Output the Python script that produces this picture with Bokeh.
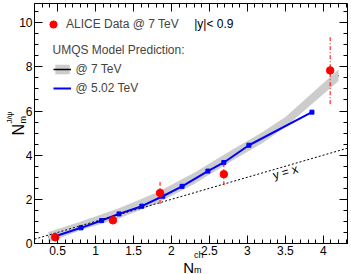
import math
import numpy as np
from bokeh.plotting import figure
from bokeh.models import (Range1d, LinearAxis, FixedTicker, Label, Legend, LegendItem,
                          ColumnDataSource, CustomJSTickFormatter)
from bokeh.embed import file_html
from bokeh.resources import INLINE

# ---------------- data ----------------
alice_x = [0.47, 1.23, 1.85, 2.69, 4.09]
alice_y = [0.28, 1.05, 2.29, 3.14, 7.84]
alice_err = [0.08, 0.08, 0.50, 0.50, 1.53]

umqs7_x = [0.38, 0.80, 1.30, 1.80, 2.30, 2.80, 3.20, 3.50, 4.20]
umqs7_lo = [0.05, 0.60, 1.12, 1.80, 2.70, 3.75, 4.55, 5.28, 7.36]
umqs7_hi = [0.52, 0.98, 1.58, 2.30, 3.20, 4.25, 5.05, 5.73, 7.88]
umqs7_mid = [0.28, 0.79, 1.35, 2.05, 2.95, 4.00, 4.80, 5.50, 7.62]

umqs502_x = [0.47, 0.81, 1.08, 1.31, 1.61, 1.885, 2.14, 2.48, 2.69, 3.02, 3.85]
umqs502_y = [0.33, 0.71, 1.04, 1.34, 1.69, 2.14, 2.59, 3.28, 3.67, 4.45, 5.95]

x_ticks = [0.5, 1, 1.5, 2, 2.5, 3, 3.5, 4]
y_ticks = [0, 2, 4, 6, 8, 10]

# axis limits of the drawn box
BX0, BX1 = 0.197, 4.318
BY0, BY1 = 0.0, 10.87

# ---------------- layout ----------------
W, H = 351, 274
L, R, T, B = 34, 347, 3, 243          # box edges in canvas pixels
ppx = (R - L) / (BX1 - BX0)
ppy = (B - T) / (BY1 - BY0)
XS, XE = BX0 - L / ppx, BX1 + (W - R) / ppx
YS, YE = BY0 - (H - B) / ppy, BY1 + T / ppy

FONT = "Liberation Sans"

p = figure(width=W, height=H, x_range=Range1d(XS, XE), y_range=Range1d(YS, YE),
           output_backend="svg", toolbar_location=None,
           x_axis_type=None, y_axis_type=None,
           min_border_left=0, min_border_right=0, min_border_top=0, min_border_bottom=0)
p.outline_line_color = None
p.background_fill_color = "white"
p.border_fill_color = "white"

fmt = CustomJSTickFormatter(code="return String(Math.round(tick*100)/100)")
blank = CustomJSTickFormatter(code="return ''")
x_minor = [round(v, 2) for v in np.arange(0.2, 4.33, 0.1)]
y_minor = [round(v, 2) for v in np.arange(0.0, 10.95, 0.5)]


def make_axis(ticks, minor, labels, loc, bounds):
    ax = LinearAxis(ticker=FixedTicker(ticks=ticks, minor_ticks=minor),
                    fixed_location=loc, bounds=bounds)
    ax.major_tick_in = 8
    ax.major_tick_out = 0
    ax.minor_tick_in = 4
    ax.minor_tick_out = 0
    ax.axis_line_color = "black"
    ax.major_tick_line_color = "black"
    ax.minor_tick_line_color = "black"
    if labels:
        ax.formatter = fmt
        ax.major_label_text_font = FONT
        ax.major_label_text_font_size = "12px"
        ax.major_label_text_color = "black"
        ax.major_label_standoff = 2
    else:
        ax.formatter = blank
        ax.major_label_text_font_size = "0px"
        ax.major_label_standoff = 0
    return ax


p.add_layout(make_axis(x_ticks, x_minor, True, BY0, (BX0, BX1)), "below")
p.add_layout(make_axis(y_ticks, y_minor, True, BX0, (BY0, BY1)), "left")
p.add_layout(make_axis(x_ticks, x_minor, False, BY1, (BX0, BX1)), "above")
p.add_layout(make_axis(y_ticks, y_minor, False, BX1, (BY0, BY1)), "right")

# ---------------- glyphs ----------------
src7 = ColumnDataSource(dict(x=umqs7_x, lo=umqs7_lo, hi=umqs7_hi, mid=umqs7_mid))
r7_line = p.line("x", "mid", source=src7, line_color="black", line_width=1.5)
r7_band = p.varea(x="x", y1="lo", y2="hi", source=src7, fill_color="#cccccc")

src5 = ColumnDataSource(dict(x=umqs502_x, y=umqs502_y))
r5_line = p.line("x", "y", source=src5, line_color="#0000ff", line_width=2)
p.scatter("x", "y", source=src5, marker="square", size=4, fill_color="#0000ff",
          line_color="#0000ff")

# y = x reference line across the axis range
yx = [BX0, BX1]
p.line(x=yx, y=yx, line_color="black", line_dash="2 2", line_width=1)

a_lo = [y - e for y, e in zip(alice_y, alice_err)]
a_hi = [y + e for y, e in zip(alice_y, alice_err)]
srca = ColumnDataSource(dict(x=alice_x, y=alice_y, lo=a_lo, hi=a_hi))
p.segment(x0="x", x1="x", y0="lo", y1="hi", source=srca, line_color="#ff0000",
          line_width=1, line_dash="4 2 1 2")
ra = p.scatter("x", "y", source=srca, marker="circle", size=7.5, fill_color="#ff0000",
               line_color="#ff0000", line_width=1)

ang = math.atan2(ppy, ppx)
p.add_layout(Label(x=3.50, y=3.23, text="y = x", angle=ang, text_align="center",
                   text_baseline="middle", text_font=FONT, text_font_size="12px",
                   text_color="black"))

# ---------------- legends ----------------
leg1 = Legend(items=[LegendItem(label="ALICE Data @ 7 TeV", renderers=[ra])],
              location=(44, 241.3),
              glyph_width=18, glyph_height=18, label_standoff=4, label_height=12,
              padding=0, margin=0, border_line_color=None, background_fill_alpha=0,
              label_text_font=FONT, label_text_font_size="12px")
p.add_layout(leg1)

p.add_layout(Label(x=2.30, y=9.92, text="|y|< 0.9", text_baseline="middle",
                   text_font=FONT, text_font_size="12px", text_color="black"))

leg2 = Legend(items=[LegendItem(label="@ 7 TeV", renderers=[r7_band, r7_line]),
                     LegendItem(label="@ 5.02 TeV", renderers=[r5_line])],
              location=(52.5, 179.5),
              title="UMQS Model Prediction:", title_text_font=FONT,
              title_text_font_size="12px", title_text_font_style="normal",
              title_standoff=5,
              glyph_width=18, glyph_height=12, label_standoff=5, label_height=12,
              spacing=5, padding=0, margin=0, border_line_color=None,
              background_fill_alpha=0,
              label_text_font=FONT, label_text_font_size="12px")
p.add_layout(leg2)

# ---------------- axis titles (N with sub/superscripts) ----------------
def cx(px):   # canvas x pixel -> data x
    return XS + px / ppx


def cy(py):   # canvas y pixel -> data y
    return YE - py / ppy


def lab(**kw):
    base = dict(text_font=FONT, text_color="black", text_baseline="alphabetic",
                text_align="left")
    base.update(kw)
    p.add_layout(Label(**base))


lab(x=cx(182.7), y=cy(266.5), text="N", text_font_size="15px")
lab(x=cx(193.5), y=cy(254.5), text="ch", text_font_size="9px")
lab(x=cx(193.5), y=cy(269.5), text="m", text_font_size="9px")

lab(x=cx(18), y=cy(135), text="N", angle=math.pi / 2, text_font_size="16px")
lab(x=cx(22), y=cy(123), text="m", angle=math.pi / 2, text_font_size="9px")
lab(x=cx(9), y=cy(123), text="J/ψ", angle=math.pi / 2, text_font_size="8px")

open("out.html", "w").write(file_html(p, INLINE))
